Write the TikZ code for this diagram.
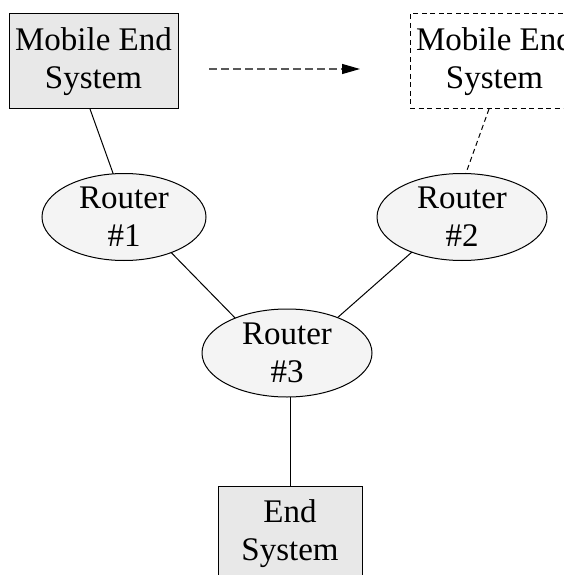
\documentclass[tikz,border=0pt]{standalone}
\usepackage{fontspec}
\setmainfont{Liberation Serif}
\usetikzlibrary{arrows.meta,shapes.geometric}
\definecolor{boxgray}{HTML}{E8E8E8}
\definecolor{routergray}{HTML}{F4F4F4}
\begin{document}
\begin{tikzpicture}[
    x=1pt, y=-1pt,
    every node/.style={
        font=\fontsize{33}{38}\selectfont,
        align=center,
        inner sep=0pt,
        outer sep=0pt
    },
    station/.style={
        rectangle,
        draw,
        line width=1pt,
        minimum width=169pt,
        minimum height=95pt
    },
    router/.style={
        ellipse,
        draw,
        line width=1pt,
        fill=routergray,
        minimum width=168pt,
        minimum height=87pt
    },
    link/.style={
        line width=1pt
    },
    move/.style={
        -{Triangle[length=18pt,width=10pt,color=black]},
        line width=1.2pt,
        dash pattern=on 7.5pt off 4.5pt,
        draw=black!65
    }
]
\useasboundingbox (0,0) rectangle (563,575);
\clip (0,0) rectangle (563,575);

% Stazioni
\node[station, fill=boxgray] (mobile) at (93.5,61.5) {Mobile End\\System};
\node[station, dash pattern=on 5pt off 3.5pt, fill=white] (mobilenew) at (494.5,61.5) {Mobile End\\System};
\node[station, fill=boxgray, minimum width=144pt] (endsys) at (290,533.5) {End\\System};

% Router
\node[router, minimum width=164pt] (router1) at (124,217) {Router\\\#1};
\node[router, minimum width=170pt] (router2) at (462,217) {Router\\\#2};
\node[router, minimum width=170pt, minimum height=88pt] (router3) at (287,353) {Router\\\#3};

% Collegamenti
\draw[link] ([xshift=-3.5pt]mobile.south) -- (router1.104);
\draw[link, dash pattern=on 5pt off 3.5pt] ([xshift=-5.5pt]mobilenew.south) -- (router2.85);
\draw[link] (router1.-37.5) -- (router3.146);
\draw[link] (router2.-145) -- (router3.35);
\draw[link] (endsys.north |- router3.south) -- (endsys.north);

% Spostamento
\coordinate (movefrom) at (209,69);
\coordinate (moveto) at (360,69);
\draw[move] (movefrom) -- (moveto);

\end{tikzpicture}
\end{document}
